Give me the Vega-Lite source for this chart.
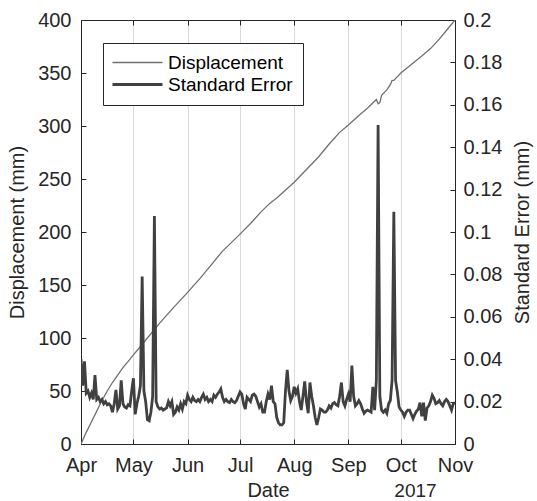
{
  "$schema": "https://vega.github.io/schema/vega-lite/v6.json",
  "width": 374,
  "height": 424,
  "autosize": {"type": "none"},
  "padding": {"left": 81, "top": 20, "right": 82, "bottom": 57},
  "background": "white",
  "config": {
    "font": "Liberation Sans",
    "view": {"stroke": null},
    "axis": {
      "labelFont": "Liberation Sans",
      "titleFont": "Liberation Sans",
      "labelFontSize": 20,
      "titleFontSize": 20,
      "titleFontWeight": "normal",
      "labelColor": "#262626",
      "titleColor": "#262626",
      "domainColor": "#262626",
      "tickColor": "#262626",
      "domainWidth": 1,
      "tickWidth": 1
    }
  },
  "datasets": {
    "disp": [
      {"d": "2017-04-01", "v": 0}, {"d": "2017-04-04", "v": 11}, {"d": "2017-04-07", "v": 21},
      {"d": "2017-04-10", "v": 31}, {"d": "2017-04-13", "v": 41}, {"d": "2017-04-16", "v": 50},
      {"d": "2017-04-19", "v": 58}, {"d": "2017-04-22", "v": 65}, {"d": "2017-04-25", "v": 72},
      {"d": "2017-04-28", "v": 78}, {"d": "2017-05-01", "v": 84}, {"d": "2017-05-05", "v": 92},
      {"d": "2017-05-09", "v": 100}, {"d": "2017-05-16", "v": 114}, {"d": "2017-05-23", "v": 127},
      {"d": "2017-06-01", "v": 143}, {"d": "2017-06-08", "v": 156}, {"d": "2017-06-15", "v": 170},
      {"d": "2017-06-21", "v": 182}, {"d": "2017-06-26", "v": 190}, {"d": "2017-07-01", "v": 198},
      {"d": "2017-07-07", "v": 208}, {"d": "2017-07-13", "v": 219}, {"d": "2017-07-18", "v": 227},
      {"d": "2017-07-22", "v": 232}, {"d": "2017-07-26", "v": 238}, {"d": "2017-08-01", "v": 247},
      {"d": "2017-08-08", "v": 259}, {"d": "2017-08-15", "v": 271}, {"d": "2017-08-21", "v": 283},
      {"d": "2017-08-27", "v": 294}, {"d": "2017-09-01", "v": 301}, {"d": "2017-09-07", "v": 310},
      {"d": "2017-09-12", "v": 317}, {"d": "2017-09-17", "v": 325}, {"d": "2017-09-18", "v": 321},
      {"d": "2017-09-19", "v": 322}, {"d": "2017-09-20", "v": 329}, {"d": "2017-09-23", "v": 334},
      {"d": "2017-09-25", "v": 339}, {"d": "2017-09-26", "v": 343}, {"d": "2017-09-27", "v": 343},
      {"d": "2017-10-01", "v": 350}, {"d": "2017-10-07", "v": 358}, {"d": "2017-10-13", "v": 366},
      {"d": "2017-10-18", "v": 373}, {"d": "2017-10-23", "v": 382}, {"d": "2017-10-28", "v": 392},
      {"d": "2017-11-01", "v": 400}
    ],
    "se": [
      {"d": "2017-04-01", "v": 0.04}, {"d": "2017-04-02", "v": 0.0275}, {"d": "2017-04-03", "v": 0.039}, {"d": "2017-04-04", "v": 0.024}, {"d": "2017-04-05", "v": 0.025}, {"d": "2017-04-06", "v": 0.022}, {"d": "2017-04-07", "v": 0.024}, {"d": "2017-04-08", "v": 0.021}, {"d": "2017-04-09", "v": 0.0325}, {"d": "2017-04-10", "v": 0.021},
      {"d": "2017-04-11", "v": 0.022}, {"d": "2017-04-12", "v": 0.02}, {"d": "2017-04-13", "v": 0.021}, {"d": "2017-04-14", "v": 0.019}, {"d": "2017-04-15", "v": 0.02}, {"d": "2017-04-16", "v": 0.0185}, {"d": "2017-04-17", "v": 0.019}, {"d": "2017-04-18", "v": 0.018}, {"d": "2017-04-19", "v": 0.015}, {"d": "2017-04-20", "v": 0.019},
      {"d": "2017-04-21", "v": 0.0255}, {"d": "2017-04-22", "v": 0.0165}, {"d": "2017-04-23", "v": 0.018}, {"d": "2017-04-24", "v": 0.03}, {"d": "2017-04-25", "v": 0.019}, {"d": "2017-04-26", "v": 0.0175}, {"d": "2017-04-27", "v": 0.017}, {"d": "2017-04-28", "v": 0.0185}, {"d": "2017-04-29", "v": 0.018}, {"d": "2017-04-30", "v": 0.025},
      {"d": "2017-05-01", "v": 0.031}, {"d": "2017-05-02", "v": 0.014}, {"d": "2017-05-03", "v": 0.019}, {"d": "2017-05-04", "v": 0.0225}, {"d": "2017-05-05", "v": 0.0275}, {"d": "2017-05-06", "v": 0.079}, {"d": "2017-05-07", "v": 0.025}, {"d": "2017-05-08", "v": 0.02}, {"d": "2017-05-09", "v": 0.0115}, {"d": "2017-05-10", "v": 0.011},
      {"d": "2017-05-11", "v": 0.015}, {"d": "2017-05-12", "v": 0.0225}, {"d": "2017-05-13", "v": 0.1075}, {"d": "2017-05-14", "v": 0.02}, {"d": "2017-05-15", "v": 0.0175}, {"d": "2017-05-16", "v": 0.0165}, {"d": "2017-05-17", "v": 0.017}, {"d": "2017-05-18", "v": 0.016}, {"d": "2017-05-19", "v": 0.0165}, {"d": "2017-05-20", "v": 0.017},
      {"d": "2017-05-21", "v": 0.02}, {"d": "2017-05-22", "v": 0.018}, {"d": "2017-05-23", "v": 0.02}, {"d": "2017-05-24", "v": 0.014}, {"d": "2017-05-25", "v": 0.015}, {"d": "2017-05-26", "v": 0.0175}, {"d": "2017-05-27", "v": 0.016}, {"d": "2017-05-28", "v": 0.019}, {"d": "2017-05-29", "v": 0.0165}, {"d": "2017-05-30", "v": 0.02},
      {"d": "2017-05-31", "v": 0.019},
      {"d": "2017-06-01", "v": 0.023}, {"d": "2017-06-02", "v": 0.021}, {"d": "2017-06-03", "v": 0.02}, {"d": "2017-06-04", "v": 0.022}, {"d": "2017-06-05", "v": 0.0205}, {"d": "2017-06-06", "v": 0.02}, {"d": "2017-06-07", "v": 0.021}, {"d": "2017-06-08", "v": 0.02}, {"d": "2017-06-09", "v": 0.022}, {"d": "2017-06-10", "v": 0.0235},
      {"d": "2017-06-11", "v": 0.021}, {"d": "2017-06-12", "v": 0.022}, {"d": "2017-06-13", "v": 0.02}, {"d": "2017-06-14", "v": 0.021}, {"d": "2017-06-15", "v": 0.02}, {"d": "2017-06-16", "v": 0.023}, {"d": "2017-06-17", "v": 0.022}, {"d": "2017-06-18", "v": 0.0235}, {"d": "2017-06-19", "v": 0.0245}, {"d": "2017-06-20", "v": 0.026},
      {"d": "2017-06-21", "v": 0.022}, {"d": "2017-06-22", "v": 0.02}, {"d": "2017-06-23", "v": 0.021}, {"d": "2017-06-24", "v": 0.02}, {"d": "2017-06-25", "v": 0.0195}, {"d": "2017-06-26", "v": 0.021}, {"d": "2017-06-27", "v": 0.02}, {"d": "2017-06-28", "v": 0.0195}, {"d": "2017-06-29", "v": 0.0205}, {"d": "2017-06-30", "v": 0.0225},
      {"d": "2017-07-01", "v": 0.0245}, {"d": "2017-07-02", "v": 0.0235}, {"d": "2017-07-03", "v": 0.019}, {"d": "2017-07-04", "v": 0.0165}, {"d": "2017-07-05", "v": 0.022}, {"d": "2017-07-06", "v": 0.021}, {"d": "2017-07-07", "v": 0.02}, {"d": "2017-07-08", "v": 0.023}, {"d": "2017-07-09", "v": 0.0235}, {"d": "2017-07-10", "v": 0.0225},
      {"d": "2017-07-11", "v": 0.02}, {"d": "2017-07-12", "v": 0.0175}, {"d": "2017-07-13", "v": 0.019}, {"d": "2017-07-14", "v": 0.015}, {"d": "2017-07-15", "v": 0.015}, {"d": "2017-07-16", "v": 0.02}, {"d": "2017-07-17", "v": 0.0235}, {"d": "2017-07-18", "v": 0.021}, {"d": "2017-07-19", "v": 0.0275}, {"d": "2017-07-20", "v": 0.02},
      {"d": "2017-07-21", "v": 0.019}, {"d": "2017-07-22", "v": 0.0125}, {"d": "2017-07-23", "v": 0.01}, {"d": "2017-07-24", "v": 0.009}, {"d": "2017-07-25", "v": 0.009}, {"d": "2017-07-26", "v": 0.01}, {"d": "2017-07-27", "v": 0.025}, {"d": "2017-07-28", "v": 0.035}, {"d": "2017-07-29", "v": 0.025}, {"d": "2017-07-30", "v": 0.0205},
      {"d": "2017-07-31", "v": 0.0225},
      {"d": "2017-08-01", "v": 0.027}, {"d": "2017-08-02", "v": 0.024}, {"d": "2017-08-03", "v": 0.026}, {"d": "2017-08-04", "v": 0.02}, {"d": "2017-08-05", "v": 0.016}, {"d": "2017-08-06", "v": 0.0225}, {"d": "2017-08-07", "v": 0.0295}, {"d": "2017-08-08", "v": 0.02}, {"d": "2017-08-09", "v": 0.0145}, {"d": "2017-08-10", "v": 0.029},
      {"d": "2017-08-11", "v": 0.0225}, {"d": "2017-08-12", "v": 0.018}, {"d": "2017-08-13", "v": 0.0125}, {"d": "2017-08-14", "v": 0.009}, {"d": "2017-08-15", "v": 0.0125}, {"d": "2017-08-16", "v": 0.0165}, {"d": "2017-08-17", "v": 0.016}, {"d": "2017-08-18", "v": 0.015}, {"d": "2017-08-19", "v": 0.015}, {"d": "2017-08-20", "v": 0.016},
      {"d": "2017-08-21", "v": 0.018}, {"d": "2017-08-22", "v": 0.017}, {"d": "2017-08-23", "v": 0.019}, {"d": "2017-08-24", "v": 0.0195}, {"d": "2017-08-25", "v": 0.0185}, {"d": "2017-08-26", "v": 0.018}, {"d": "2017-08-27", "v": 0.0225}, {"d": "2017-08-28", "v": 0.029}, {"d": "2017-08-29", "v": 0.02}, {"d": "2017-08-30", "v": 0.018},
      {"d": "2017-08-31", "v": 0.021},
      {"d": "2017-09-01", "v": 0.0235}, {"d": "2017-09-02", "v": 0.02}, {"d": "2017-09-03", "v": 0.037}, {"d": "2017-09-04", "v": 0.0225}, {"d": "2017-09-05", "v": 0.018}, {"d": "2017-09-06", "v": 0.019}, {"d": "2017-09-07", "v": 0.0205}, {"d": "2017-09-08", "v": 0.019}, {"d": "2017-09-09", "v": 0.0165}, {"d": "2017-09-10", "v": 0.0145},
      {"d": "2017-09-11", "v": 0.0155}, {"d": "2017-09-12", "v": 0.016}, {"d": "2017-09-13", "v": 0.0155}, {"d": "2017-09-14", "v": 0.015}, {"d": "2017-09-15", "v": 0.027}, {"d": "2017-09-16", "v": 0.016}, {"d": "2017-09-17", "v": 0.03}, {"d": "2017-09-18", "v": 0.1505}, {"d": "2017-09-19", "v": 0.0225}, {"d": "2017-09-20", "v": 0.016},
      {"d": "2017-09-21", "v": 0.015}, {"d": "2017-09-22", "v": 0.016}, {"d": "2017-09-23", "v": 0.0145}, {"d": "2017-09-24", "v": 0.019}, {"d": "2017-09-25", "v": 0.0205}, {"d": "2017-09-26", "v": 0.03}, {"d": "2017-09-27", "v": 0.1095}, {"d": "2017-09-28", "v": 0.03}, {"d": "2017-09-29", "v": 0.0245}, {"d": "2017-09-30", "v": 0.0175},
      {"d": "2017-10-01", "v": 0.016}, {"d": "2017-10-02", "v": 0.015}, {"d": "2017-10-03", "v": 0.013}, {"d": "2017-10-04", "v": 0.015}, {"d": "2017-10-05", "v": 0.016}, {"d": "2017-10-06", "v": 0.016}, {"d": "2017-10-07", "v": 0.014}, {"d": "2017-10-08", "v": 0.012}, {"d": "2017-10-09", "v": 0.014}, {"d": "2017-10-10", "v": 0.0155},
      {"d": "2017-10-11", "v": 0.0165}, {"d": "2017-10-12", "v": 0.0195}, {"d": "2017-10-13", "v": 0.013}, {"d": "2017-10-14", "v": 0.0195}, {"d": "2017-10-15", "v": 0.011}, {"d": "2017-10-16", "v": 0.017}, {"d": "2017-10-17", "v": 0.018}, {"d": "2017-10-18", "v": 0.02}, {"d": "2017-10-19", "v": 0.023}, {"d": "2017-10-20", "v": 0.0215},
      {"d": "2017-10-21", "v": 0.019}, {"d": "2017-10-22", "v": 0.0195}, {"d": "2017-10-23", "v": 0.0205}, {"d": "2017-10-24", "v": 0.019}, {"d": "2017-10-25", "v": 0.018}, {"d": "2017-10-26", "v": 0.02}, {"d": "2017-10-27", "v": 0.021}, {"d": "2017-10-28", "v": 0.02}, {"d": "2017-10-29", "v": 0.018}, {"d": "2017-10-30", "v": 0.016},
      {"d": "2017-10-31", "v": 0.019}, {"d": "2017-11-01", "v": 0.0195}
    ]
  },
  "layer": [
    {
      "data": {"name": "disp"},
      "mark": {"type": "line", "strokeWidth": 1.3, "clip": true},
      "encoding": {
        "x": {
          "field": "d", "type": "temporal",
          "scale": {"type": "utc", "domain": [{"year": 2017, "month": 4, "date": 1, "utc": true}, {"year": 2017, "month": 11, "date": 1, "utc": true}]},
          "axis": {
            "orient": "bottom",
            "values": [
              {"year": 2017, "month": 4, "date": 1, "utc": true}, {"year": 2017, "month": 5, "date": 1, "utc": true},
              {"year": 2017, "month": 6, "date": 1, "utc": true}, {"year": 2017, "month": 7, "date": 1, "utc": true},
              {"year": 2017, "month": 8, "date": 1, "utc": true}, {"year": 2017, "month": 9, "date": 1, "utc": true},
              {"year": 2017, "month": 10, "date": 1, "utc": true}, {"year": 2017, "month": 11, "date": 1, "utc": true}
            ],
            "labelExpr": "utcFormat(datum.value, '%b')",
            "labelFlush": false, "labelOverlap": false,
            "grid": true, "gridColor": "#dadada", "gridWidth": 1,
            "tickSize": -5, "labelPadding": 16,
            "title": "Date", "titleY": 46, "titleBaseline": "middle"
          }
        },
        "y": {
          "field": "v", "type": "quantitative",
          "scale": {"domain": [0, 400], "nice": false},
          "axis": {
            "orient": "left",
            "values": [0, 50, 100, 150, 200, 250, 300, 350, 400],
            "grid": false, "tickSize": -5, "labelPadding": 15,
            "title": "Displacement (mm)", "titleAngle": 270, "titleX": -64, "titleY": 212, "titleBaseline": "middle", "titleAlign": "center"
          }
        },
        "color": {
          "datum": "Displacement", "type": "nominal",
          "scale": {"domain": ["Displacement", "Standard Error"], "range": ["#707070", "#404040"]},
          "legend": {
            "orient": "none", "legendX": 22, "legendY": 23, "title": null,
            "symbolType": "stroke", "symbolSize": 2500, "symbolStrokeWidth": 1.3, "symbolOffset": 15,
            "labelFont": "Liberation Sans", "labelFontSize": 19, "labelColor": "#000000",
            "fillColor": "white", "strokeColor": "#262626", "padding": 10, "rowPadding": 2,
            "labelOffset": 21, "cornerRadius": 0,
            "encode": {"symbols": {"update": {"strokeWidth": {"signal": "datum.value === 'Standard Error' ? 2.8 : 1.3"}}}}
          }
        }
      }
    },
    {
      "data": {"name": "se"},
      "mark": {"type": "line", "strokeWidth": 2.8, "clip": true},
      "encoding": {
        "x": {
          "field": "d", "type": "temporal",
          "axis": {
            "orient": "top",
            "values": [
              {"year": 2017, "month": 4, "date": 1, "utc": true}, {"year": 2017, "month": 5, "date": 1, "utc": true},
              {"year": 2017, "month": 6, "date": 1, "utc": true}, {"year": 2017, "month": 7, "date": 1, "utc": true},
              {"year": 2017, "month": 8, "date": 1, "utc": true}, {"year": 2017, "month": 9, "date": 1, "utc": true},
              {"year": 2017, "month": 10, "date": 1, "utc": true}, {"year": 2017, "month": 11, "date": 1, "utc": true}
            ],
            "labels": false, "grid": false, "tickSize": -5,
            "title": "2017", "titleX": 334, "titleY": 470, "titleBaseline": "middle", "titleAlign": "center", "titleAngle": 0, "titleFontSize": 19
          }
        },
        "y": {
          "field": "v", "type": "quantitative",
          "scale": {"domain": [0, 0.2], "nice": false},
          "axis": {
            "orient": "right",
            "values": [0, 0.02, 0.04, 0.06, 0.08, 0.1, 0.12, 0.14, 0.16, 0.18, 0.2],
            "format": ".2~f",
            "grid": false, "tickSize": -5, "labelPadding": 13,
            "title": "Standard Error (mm)", "titleAngle": 270, "titleX": 67, "titleY": 212, "titleBaseline": "middle", "titleAlign": "center"
          }
        },
        "color": {"datum": "Standard Error", "type": "nominal"}
      }
    }
  ],
  "resolve": {"scale": {"y": "independent"}, "axis": {"x": "independent"}}
}
